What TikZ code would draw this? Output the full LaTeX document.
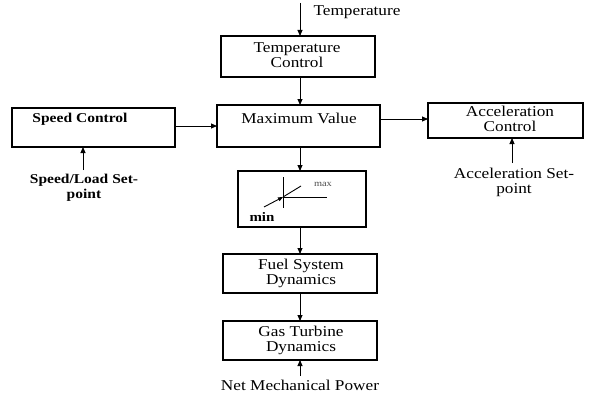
\documentclass[tikz,border=0pt]{standalone}
\usepackage{fontspec}
\setmainfont{Liberation Serif}[FakeStretch=1.15]
\usetikzlibrary{arrows.meta}
\begin{document}
\begin{tikzpicture}[x=1pt,y=-1pt,
  blk/.style={draw,line width=1.1pt,inner sep=0pt},
  lbl/.style={font=\fontsize{15}{15}\selectfont,align=center,inner sep=0pt},
  bl/.style={font=\fontsize{13.5}{14.5}\selectfont\bfseries,align=center,inner sep=0pt},
  conn/.style={line width=0.9pt,-{Triangle[length=6pt,width=5pt]}}]
\useasboundingbox (0,0) rectangle (589,396);
% boxes
\draw[blk] (221,36) rectangle (375,77);
\draw[blk] (217,105) rectangle (380,147);
\draw[blk] (12,108) rectangle (175,147);
\draw[blk] (428,103) rectangle (583,138);
\draw[blk] (238,171) rectangle (366,227);
\draw[blk] (223,254) rectangle (377,293);
\draw[blk] (223,321) rectangle (377,360);
% labels
\node[lbl] (tin) at (357,12) {Temperature};
\node[lbl] (tc) at (297,55) {Temperature\\Control};
\node[lbl] (mv) at (299,118) {Maximum Value};
\node[bl] (sc) at (80,119) {Speed Control};
\node[lbl] (ac) at (510,119) {Acceleration\\Control};
\node[bl] (ssp) at (84,188) {Speed/Load Set-\\point};
\node[lbl] (asp) at (514,182) {Acceleration Set-\\point};
\node[lbl] (fs) at (301,273) {Fuel System\\Dynamics};
\node[lbl] (gt) at (301,340) {Gas Turbine\\Dynamics};
\node[lbl] (nmp) at (300,385) {Net Mechanical Power};
% coordinates for connectors
\coordinate (t0) at (300,3);
\coordinate (t1) at (300,36);
\coordinate (m0) at (300,77);
\coordinate (m1) at (300,105);
\coordinate (s0) at (175,126);
\coordinate (s1) at (217,126);
\coordinate (a0) at (380,119);
\coordinate (a1) at (428,119);
\coordinate (l0) at (300,147);
\coordinate (l1) at (300,171);
\coordinate (f0) at (300,227);
\coordinate (f1) at (300,254);
\coordinate (g0) at (300,293);
\coordinate (g1) at (300,321);
\coordinate (n0) at (300,376);
\coordinate (n1) at (300,360);
\coordinate (sp0) at (83,170);
\coordinate (sp1) at (83,147);
\coordinate (ap0) at (512,163);
\coordinate (ap1) at (512,138);
\draw[conn] (t0) -- (t1);
\draw[conn] (m0) -- (m1);
\draw[conn] (s0) -- (s1);
\draw[conn] (a0) -- (a1);
\draw[conn] (l0) -- (l1);
\draw[conn] (f0) -- (f1);
\draw[conn] (g0) -- (g1);
\draw[conn] (n0) -- (n1);
\draw[conn] (sp0) -- (sp1);
\draw[conn] (ap0) -- (ap1);
% limiter symbol
\coordinate (c) at (283,197);
\draw[line width=0.9pt] (283,177) -- (283,208);
\draw[line width=0.9pt] (c) -- (327,197);
\draw[line width=0.9pt,-{Triangle[length=5pt,width=4pt]}] (264,207) -- (c);
\draw[line width=0.9pt] (c) -- (301,186);
\node[font=\fontsize{9}{9}\selectfont,text=black!70,inner sep=0pt] (mx) at (323,184) {max};
\node[font=\fontsize{13}{13}\selectfont\bfseries,inner sep=0pt] (mn) at (262,217) {min};
\end{tikzpicture}
\end{document}
